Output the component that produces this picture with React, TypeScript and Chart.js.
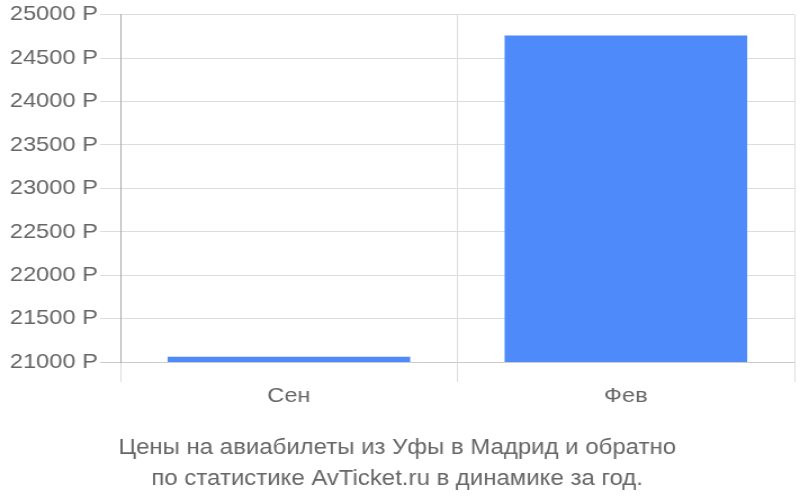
import React, { useEffect, useRef } from "react";
import { Chart, registerables } from "chart.js";

Chart.register(...registerables);

// months and average prices (roubles)
const months: string[] = ["Сен", "Фев"];
const prices: number[] = [21060, 24760];
const titleLines: string[] = [
  "Цены на авиабилеты из Уфы в Мадрид и обратно",
  "по статистике AvTicket.ru в динамике за год.",
];

const FONT = "'Liberation Sans', Arial, sans-serif";
// the reference text looks horizontally stretched, so the canvas is drawn narrower and stretched to 800px
const STRETCH = 1.125;
const CW = Math.round(800 / STRETCH);

const App: React.FC = () => {
  const canvasRef = useRef<HTMLCanvasElement | null>(null);

  useEffect(() => {
    if (!canvasRef.current) return;
    const chart = new Chart(canvasRef.current, {
      type: "bar",
      data: {
        labels: months,
        datasets: [
          {
            data: prices,
            backgroundColor: "#4e8af9",
            borderWidth: 0,
            barPercentage: 0.72,
            categoryPercentage: 1,
          },
        ],
      },
      options: {
        animation: false,
        responsive: false,
        maintainAspectRatio: false,
        devicePixelRatio: 1,
        layout: { padding: { top: 14, right: 5, left: 0, bottom: 0 } },
        plugins: {
          legend: { display: false },
          tooltip: { enabled: false },
          title: {
            display: true,
            position: "bottom",
            text: titleLines,
            color: "#666",
            font: { family: FONT, size: 21.3, weight: "normal", lineHeight: 31 / 21.3 },
            padding: { top: 23, bottom: 5 },
          },
        },
        scales: {
          x: {
            grid: {
              color: "#dddddd",
              tickLength: 20,
              offset: true,
            },
            border: { display: false },
            ticks: {
              color: "#666",
              font: { family: FONT, size: 21 },
              padding: 2,
            },
            afterFit: (scale: any) => {
              scale.height = 48;
            },
          },
          y: {
            min: 21000,
            max: 25000,
            grid: {
              color: (ctx: any) => (ctx.tick && ctx.tick.value === 21000 ? "#cccccc" : "#dddddd"),
              tickLength: 18,
            },
            border: { display: true, color: "#aaaaaa" },
            ticks: {
              stepSize: 500,
              color: "#666",
              font: { family: FONT, size: 21 },
              padding: 2,
              callback: (v: any) => v + " Р",
            },
            afterFit: (scale: any) => {
              scale.width = 107;
            },
          },
        },
      },
    });
    return () => chart.destroy();
  }, []);

  return (
    <div style={{ position: "fixed", left: 0, top: 0, width: 800, height: 500, background: "#fff" }}>
      <canvas ref={canvasRef} width={CW} height={500} style={{ width: 800, height: 500, display: "block" }} />
    </div>
  );
};

export default App;
